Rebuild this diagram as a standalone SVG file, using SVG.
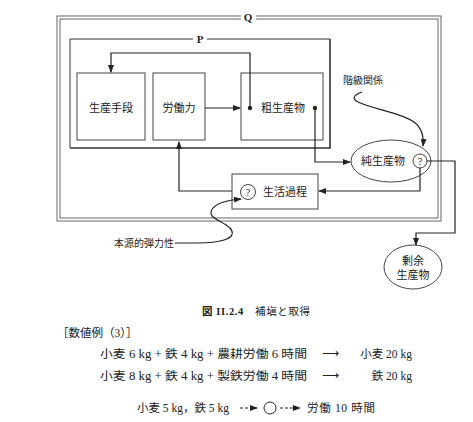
<svg xmlns="http://www.w3.org/2000/svg" width="473" height="422" viewBox="0 0 473 422">
<style>
.t{font-family:"Liberation Serif","Noto Sans CJK JP",serif;fill:#222;}
.d{font-size:11px;}
.box{fill:none;stroke:#444;stroke-width:1;}
.c{fill:none;stroke:#222;stroke-width:1.2;}
.frame{fill:none;stroke:#666;stroke-width:1;}
</style>
<defs>
<marker id="ah" markerWidth="8" markerHeight="6" refX="7" refY="3" orient="auto" markerUnits="userSpaceOnUse">
<path d="M0,0 L8,3 L0,6 Z" fill="#222"/>
</marker>
</defs>
<rect width="473" height="422" fill="#fff"/>
<g id="Q">
<rect class="frame" x="57" y="16" width="384" height="205"/>
<rect class="frame" x="60" y="19" width="378" height="199"/>
<rect x="241" y="12" width="15" height="10" fill="#fff"/>
<text class="t" x="248" y="21" font-size="11" font-weight="bold" text-anchor="middle">Q</text>
</g>
<g id="P">
<path d="M330,39 H70 V148" fill="none" stroke="#333" stroke-width="1"/>
<path d="M70,148 H330 V39" fill="none" stroke="#333" stroke-width="1.6"/>
<rect x="193" y="34" width="14" height="10" fill="#fff"/>
<text class="t" x="200" y="43" font-size="11" font-weight="bold" text-anchor="middle">P</text>
</g>
<g id="seisanshudan">
<rect class="box" x="77" y="73" width="68" height="67"/>
<text class="t d" x="111" y="112" text-anchor="middle">生産手段</text>
</g>
<g id="roudouryoku">
<rect class="box" x="153" y="73" width="52" height="67"/>
<text class="t d" x="179" y="112" text-anchor="middle">労働力</text>
</g>
<g id="soseisanbutsu">
<rect class="box" x="241" y="73" width="82" height="67"/>
<text class="t d" x="283" y="112" text-anchor="middle">粗生産物</text>
</g>
<g id="junseisanbutsu">
<ellipse cx="391" cy="161" rx="40" ry="21" class="box"/>
<text class="t d" x="383" y="165" text-anchor="middle">純生産物</text>
<circle cx="420" cy="161" r="7" class="box"/>
<text class="t" x="420" y="165" font-size="10" text-anchor="middle">?</text>
</g>
<g id="seikatsukatei">
<rect class="box" x="232" y="174" width="86" height="35"/>
<circle cx="248" cy="192" r="7.5" class="box"/>
<text class="t" x="248" y="196" font-size="10" text-anchor="middle">?</text>
<text class="t d" x="285" y="196" text-anchor="middle">生活過程</text>
</g>
<g id="joyoseisanbutsu">
<ellipse cx="413" cy="267" rx="29" ry="22" class="box"/>
<text class="t d" x="413" y="265" text-anchor="middle">剰余</text>
<text class="t d" x="413" y="279" text-anchor="middle">生産物</text>
</g>
<g id="labels">
<text class="t" x="343" y="84" font-size="10">階級関係</text>
<text class="t" x="114" y="247" font-size="10">本源的弾力性</text>
</g>
<g id="connectors">
<path class="c" d="M205,108 H240" marker-end="url(#ah)"/>
<circle cx="250" cy="108" r="2.2" fill="#222"/>
<path class="c" d="M250,108 V53 H111 V72" marker-end="url(#ah)"/>
<circle cx="315" cy="108" r="2.2" fill="#222"/>
<path class="c" d="M315,108 V162 H350" marker-end="url(#ah)"/>
<path class="c" d="M420,168 V191 H319" marker-end="url(#ah)"/>
<path class="c" d="M232,191 H179 V142" marker-end="url(#ah)"/>
<path class="c" d="M427,161 H455 V233 H416 V245" marker-end="url(#ah)"/>
<path class="c" stroke-width="1" d="M362,92 C356,94 350,98 358,102 C375,110 400,112 414,122 C422,128 424,136 423,146" marker-end="url(#ah)"/>
<path class="c" stroke-width="1" d="M175,243 H198 C215,243 240,240 230,228 C222,220 205,218 213,208 C218,202 230,200 241,199" marker-end="url(#ah)"/>
</g>
<g id="caption">
<text class="t" x="202" y="315" font-size="10.5" textLength="108" lengthAdjust="spacing"><tspan font-weight="bold">図 II.2.4</tspan>　補塡と取得</text>
<text class="t" x="57" y="337" font-size="11.5">［数値例（3）］</text>
<text class="t" x="100" y="358" font-size="11.5" textLength="207" lengthAdjust="spacingAndGlyphs">小麦 6 kg + 鉄 4 kg + 農耕労働 6 時間</text>
<text class="t" x="322" y="357" font-size="11.5">⟶</text>
<text class="t" x="412" y="358" font-size="11.5" text-anchor="end">小麦 20 kg</text>
<text class="t" x="100" y="380" font-size="11.5" textLength="207" lengthAdjust="spacingAndGlyphs">小麦 8 kg + 鉄 4 kg + 製鉄労働 4 時間</text>
<text class="t" x="322" y="379" font-size="11.5">⟶</text>
<text class="t" x="412" y="380" font-size="11.5" text-anchor="end">鉄 20 kg</text>
<text class="t" x="137" y="412" font-size="11.5">小麦 5 kg，鉄 5 kg</text>
<path d="M240,408 H257" stroke="#222" stroke-width="1" stroke-dasharray="3,2" fill="none" marker-end="url(#ah)"/>
<circle cx="270" cy="408" r="6" fill="none" stroke="#222" stroke-width="1"/>
<path d="M280,408 H300" stroke="#222" stroke-width="1" stroke-dasharray="3,2" fill="none" marker-end="url(#ah)"/>
<text class="t" x="307" y="412" font-size="11.5" textLength="68" lengthAdjust="spacing">労働 10 時間</text>
</g>
</svg>
